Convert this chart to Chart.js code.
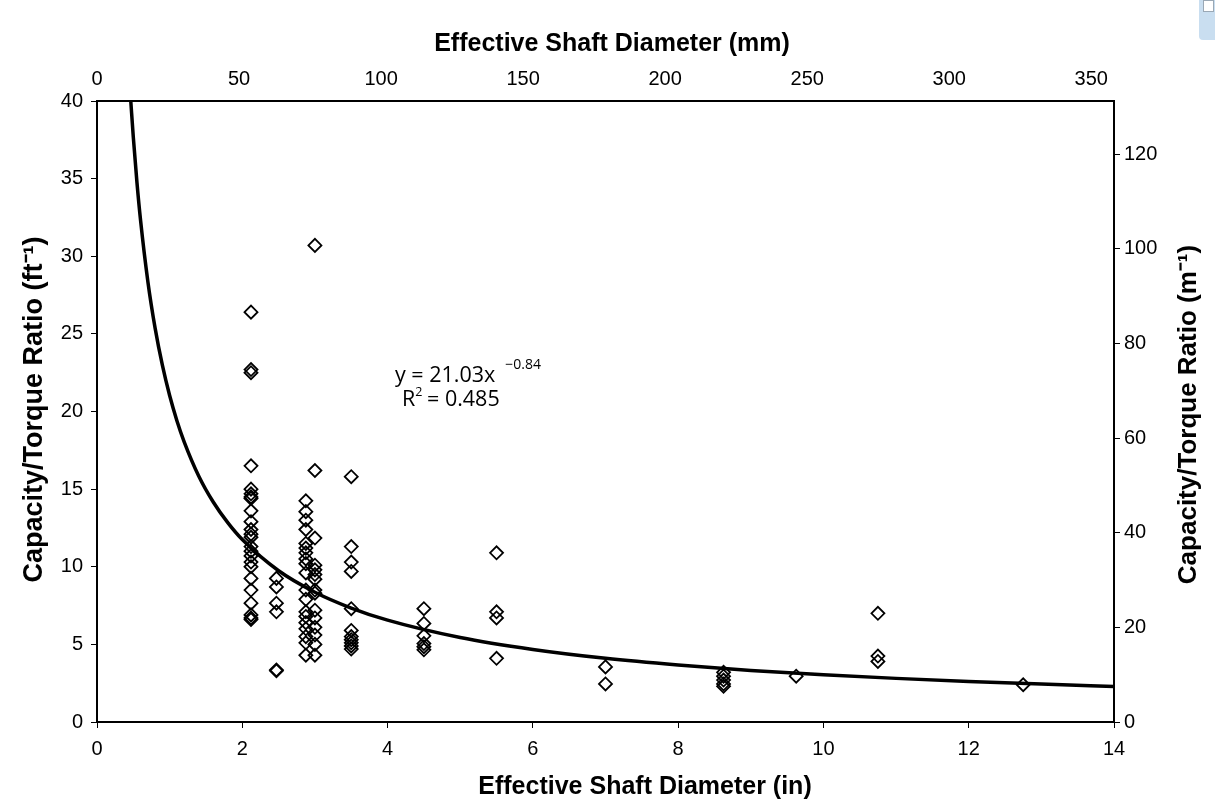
<!DOCTYPE html>
<html>
<head>
<meta charset="utf-8">
<script src="https://cdn.jsdelivr.net/npm/chart.js@4.4.0/dist/chart.umd.min.js"></script>
<style>
html,body{margin:0;padding:0;background:#ffffff;}
#wrap{width:1215px;height:812px;position:relative;}
</style>
</head>
<body>
<div id="wrap"><canvas id="c" width="1215" height="812"></canvas></div>
<script>
// ---- Data ----
const shaftDiamIn = [2.12, 2.47, 2.875, 3.0, 3.5, 4.5, 5.5, 7.0, 8.625, 9.625, 10.75, 12.75];
const ratio_d212  = [26.4, 22.7, 22.5, 16.5, 15.0, 14.7, 14.5, 14.4, 13.6, 12.9, 12.4, 12.1, 11.9, 11.3, 11.0, 10.7, 10.3, 10.0, 9.25, 8.5, 7.65, 6.9, 6.7, 6.6];
const ratio_d247  = [9.25, 8.7, 7.65, 7.1, 3.35, 3.3];
const ratio_d2875 = [14.25, 13.55, 13.0, 12.4, 11.5, 11.2, 10.9, 10.5, 10.2, 9.6, 8.5, 7.9, 7.1, 6.8, 6.4, 6.0, 5.5, 5.1, 4.3];
const ratio_d300  = [30.7, 16.2, 11.85, 10.1, 9.8, 9.5, 9.2, 8.5, 8.3, 7.2, 6.7, 6.1, 5.6, 5.0, 4.3];
const ratio_d350  = [15.8, 11.3, 10.3, 9.7, 7.3, 5.9, 5.5, 5.3, 5.1, 4.9, 4.7];
const ratio_d450  = [7.3, 6.35, 5.55, 5.05, 4.85, 4.65];
const ratio_d550  = [10.9, 7.1, 6.7, 4.1];
const ratio_d700  = [3.55, 2.45];
const ratio_d8625 = [3.2, 2.95, 2.7, 2.45, 2.3];
const ratio_d9625 = [2.95];
const ratio_d1075 = [7.0, 4.25, 3.9];
const ratio_d1275 = [2.4];
const ratioColumns = [ratio_d212, ratio_d247, ratio_d2875, ratio_d300, ratio_d350, ratio_d450,
                      ratio_d550, ratio_d700, ratio_d8625, ratio_d9625, ratio_d1075, ratio_d1275];

// Power trend line  y = 21.03x^-0.84
const trendX = [0.465, 0.5, 0.55, 0.6, 0.7, 0.8, 0.9, 1.0, 1.1, 1.2, 1.4, 1.6, 1.8, 2.0, 2.5, 3.0, 3.5, 4.0, 5.0, 6.0, 7.0, 8.0, 9.0, 10.0, 11.0, 12.0, 13.0, 14.0];
const trendY = [40.0, 37.65, 34.75, 32.30, 28.38, 25.37, 22.98, 21.03, 19.41, 18.05, 15.85, 14.17, 12.84, 11.75, 9.74, 8.36, 7.34, 6.56, 5.44, 4.67, 4.10, 3.67, 3.32, 3.04, 2.81, 2.61, 2.44, 2.29];

// Tick labels
const inchTicks = [0, 2, 4, 6, 8, 10, 12, 14];
const mmTicks   = [0, 50, 100, 150, 200, 250, 300, 350];
const ftTicks   = [0, 5, 10, 15, 20, 25, 30, 35, 40];
const mTicks    = [0, 20, 40, 60, 80, 100, 120];

// Text
const xTitleIn  = 'Effective Shaft Diameter (in)';
const xTitleMm  = 'Effective Shaft Diameter (mm)';
const yTitleFt  = 'Capacity/Torque Ratio (ft\u207B\u00B9)';
const yTitleM   = 'Capacity/Torque Ratio (m\u207B\u00B9)';
const eqMain    = 'y = 21.03x';
const eqExp     = '\u22120.84';
const r2Label   = 'R';
const r2Sup     = '2';
const r2Value   = ' = 0.485';

const IN_MAX = 14;
const MM_MAX = 358;
const FT_MAX = 40;
const M_MAX  = 40 * 3.28084;

// ---- Build datasets ----
const scatterPts = [];
shaftDiamIn.forEach((d, i) => ratioColumns[i].forEach(v => scatterPts.push({x: d, y: v})));
const trendPts = trendX.map((x, i) => ({x: x, y: trendY[i]}));

const FONT = "'Liberation Sans', Arial, sans-serif";
const EQFONT = "'Open Sans', sans-serif";

const tickSetter = (arr) => (scale) => { scale.ticks = arr.map(v => ({value: v})); };

function drawRotated(ctx, text, x, y, font) {
  ctx.save();
  ctx.font = font;
  ctx.textAlign = 'center';
  ctx.textBaseline = 'middle';
  ctx.translate(x, y);
  ctx.rotate(-Math.PI / 2);
  ctx.fillText(text, 0, 0);
  ctx.restore();
}

const overlayPlugin = {
  id: 'overlay',
  afterDraw(chart) {
    const ctx = chart.ctx;
    const ca = chart.chartArea;
    const midY = (ca.top + ca.bottom) / 2;
    ctx.save();
    ctx.fillStyle = '#000';
    // axis titles
    ctx.font = "bold 25px " + FONT;
    ctx.textAlign = 'center';
    ctx.textBaseline = 'middle';
    ctx.fillText(xTitleMm, 612, 44);
    ctx.fillText(xTitleIn, 645, 787);
    drawRotated(ctx, yTitleFt, 35, midY - 2, "bold 27px " + FONT);
    drawRotated(ctx, yTitleM, 1189, midY + 3, "bold 26px " + FONT);
    ctx.restore();

    // equation text
    ctx.save();
    ctx.fillStyle = '#000';
    ctx.textAlign = 'left';
    ctx.textBaseline = 'alphabetic';
    const ex = ca.left + 298, ey = ca.top + 281;
    ctx.font = "21.5px " + EQFONT;
    ctx.fillText(eqMain, ex, ey);
    const w1 = ctx.measureText(eqMain).width;
    ctx.font = "14px " + EQFONT;
    ctx.fillText(eqExp, ex + w1 + 10, ey - 13);
    const rx = ex + 7, ry = ey + 24;
    ctx.font = "21.5px " + EQFONT;
    ctx.fillText(r2Label, rx, ry);
    const wr = ctx.measureText(r2Label).width;
    ctx.font = "12.5px " + EQFONT;
    ctx.fillText(r2Sup, rx + wr, ry - 10);
    const ws = ctx.measureText(r2Sup).width;
    ctx.font = "21.5px " + EQFONT;
    ctx.fillText(r2Value, rx + wr + ws - 1, ry);
    ctx.restore();

    // small UI artifact at top-right corner of the reference screenshot
    ctx.save();
    ctx.fillStyle = '#c9def0';
    ctx.beginPath();
    ctx.roundRect(1199, -6, 24, 46, 4);
    ctx.fill();
    ctx.fillStyle = '#ffffff';
    ctx.strokeStyle = '#9aa8b5';
    ctx.lineWidth = 1;
    ctx.fillRect(1203.5, 0.5, 10, 11);
    ctx.strokeRect(1203.5, 0.5, 10, 11);
    ctx.restore();
  }
};

new Chart(document.getElementById('c'), {
  type: 'scatter',
  data: {
    datasets: [
      {
        label: 'Measured',
        data: scatterPts,
        pointStyle: 'rectRot',
        pointRadius: 6.5,
        pointBorderWidth: 1.8,
        borderColor: '#000',
        backgroundColor: 'rgba(0,0,0,0)',
        xAxisID: 'x', yAxisID: 'y',
        order: 2
      },
      {
        label: 'Power fit',
        type: 'line',
        data: trendPts,
        showLine: true,
        borderColor: '#000',
        borderWidth: 3.5,
        pointRadius: 0,
        fill: false,
        cubicInterpolationMode: 'monotone',
        xAxisID: 'x', yAxisID: 'y',
        order: 1
      }
    ]
  },
  options: {
    responsive: false,
    animation: false,
    events: [],
    layout: {padding: 0},
    plugins: {legend: {display: false}, tooltip: {enabled: false}},
    scales: {
      x: {
        type: 'linear', position: 'bottom', min: 0, max: IN_MAX,
        afterBuildTicks: tickSetter(inchTicks),
        afterFit: (s) => { s.height = 90; },
        grid: {drawOnChartArea: false, drawTicks: true, tickLength: 6, color: '#000', lineWidth: 1},
        border: {display: true, color: '#000', width: 2},
        ticks: {color: '#000', font: {family: FONT, size: 20}, padding: 9, maxRotation: 0, autoSkip: false},
        title: {display: false}
      },
      x2: {
        type: 'linear', position: 'top', min: 0, max: MM_MAX,
        afterBuildTicks: tickSetter(mmTicks),
        afterFit: (s) => { s.height = 101; },
        grid: {drawOnChartArea: false, drawTicks: false},
        border: {display: true, color: '#000', width: 2},
        ticks: {color: '#000', font: {family: FONT, size: 20}, padding: 10, maxRotation: 0, autoSkip: false},
        title: {display: false}
      },
      y: {
        type: 'linear', position: 'left', min: 0, max: FT_MAX,
        afterBuildTicks: tickSetter(ftTicks),
        afterFit: (s) => { s.width = 97; },
        grid: {drawOnChartArea: false, drawTicks: true, tickLength: 6, color: '#000', lineWidth: 1},
        border: {display: true, color: '#000', width: 2},
        ticks: {color: '#000', font: {family: FONT, size: 20}, padding: 8, autoSkip: false},
        title: {display: false}
      },
      y2: {
        type: 'linear', position: 'right', min: 0, max: M_MAX,
        afterBuildTicks: tickSetter(mTicks),
        afterFit: (s) => { s.width = 101; },
        grid: {drawOnChartArea: false, drawTicks: true, tickLength: 6, color: '#000', lineWidth: 1},
        border: {display: true, color: '#000', width: 2},
        ticks: {color: '#000', font: {family: FONT, size: 20}, padding: 4, autoSkip: false},
        title: {display: false}
      }
    }
  },
  plugins: [overlayPlugin]
});
</script>
</body>
</html>
